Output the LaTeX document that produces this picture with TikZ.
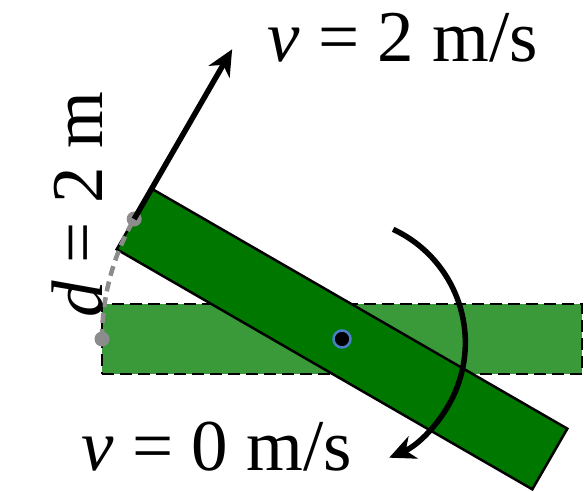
\documentclass[tikz,border=0pt]{standalone}
\usepackage{fontspec}
\setmainfont{Liberation Serif}
\usepackage{tikz}
\usetikzlibrary{arrows.meta,calc}
\definecolor{cFlat}{HTML}{3A9A3A}
\definecolor{cTilt}{HTML}{007800}
\definecolor{cPivot}{HTML}{4A7EC8}
\definecolor{cTrace}{HTML}{8C8C8C}

\begin{document}
\begin{tikzpicture}[
    x=1pt, y=1pt,
    bar/.style={rectangle, draw=black, minimum width=480pt, minimum height=70pt, inner sep=0pt, outer sep=0pt},
    arr/.style={-{Stealth[length=26pt, width=24pt, inset=8pt]}, line width=5.5pt},
    trace/.style={draw=cTrace, line width=4.5pt, dash pattern=on 10pt off 6pt},
    knob/.style={circle, fill=cTrace, minimum size=15pt, inner sep=0pt},
    lbl/.style={font=\fontsize{73}{80}\selectfont, inner sep=0pt}
]
\useasboundingbox (0,0) rectangle (584,491);
\coordinate (C) at (342,152);

% the two positions of the bar
\node[bar, fill=cFlat, line width=2.5pt, dash pattern=on 12pt off 6pt] (flat) at (C) {};
\node[bar, fill=cTilt, line width=2.5pt, rotate=-30] (tilt) at (C) {};

% swept end point
\draw[trace] (flat.west) arc[start angle=180, end angle=150, radius=240];
\node[knob] (k1) at (flat.west) {};
\node[knob] (k2) at (tilt.west) {};

\node[circle, fill=black, draw=cPivot, line width=2.5pt, minimum size=17pt, inner sep=0pt] (pivot) at (C) {};

% velocity and rotation
\coordinate (vtip) at ($(tilt.west)+(60:196)$);
\draw[arr] (tilt.west) -- (vtip);
\draw[arr] ($(C)+(65:121)$) arc[start angle=65, end angle=-67, radius=125];

\node[lbl, anchor=base] (vtop) at (403,429) {\textit{v} = 2 m/s};
\node[lbl, anchor=base] (vbot) at (217,21) {\textit{v} = 0 m/s};
\node[lbl, anchor=base, rotate=90] (dist) at (102,286) {\textit{d} = 2 m};
\end{tikzpicture}
\end{document}
